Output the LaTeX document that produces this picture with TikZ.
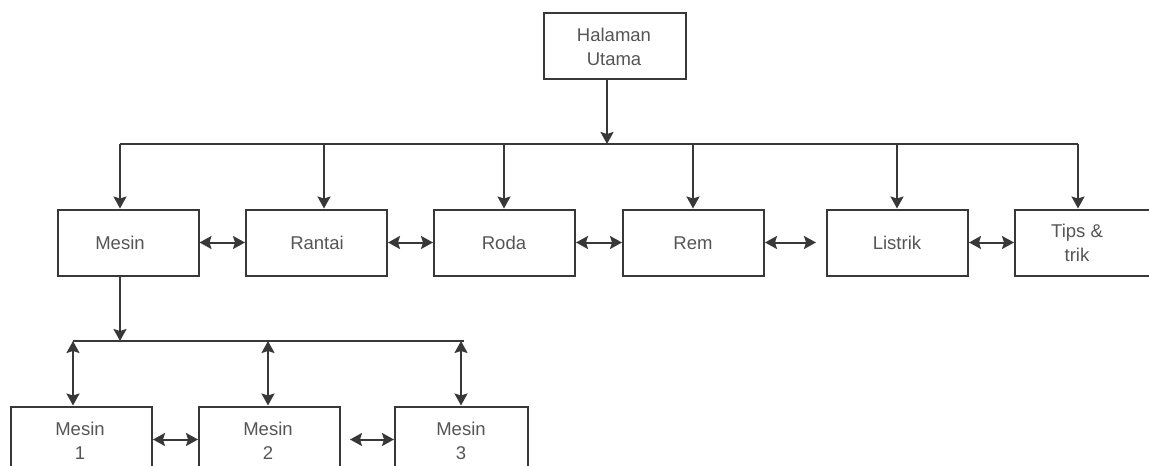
\documentclass[tikz,border=0pt]{standalone}
\usepackage{fontspec}
\setmainfont{Liberation Sans}
\usetikzlibrary{arrows.meta}
\definecolor{linegray}{HTML}{383838}
\definecolor{textgray}{HTML}{555555}
\tikzset{
  boxstyle/.style={draw=linegray, line width=2pt, fill=white, inner sep=0pt,
    minimum height=66pt, minimum width=141pt},
  lbl/.style={text=textgray, align=center, inner sep=0pt,
    font=\fontsize{18.5}{24}\selectfont},
  wire/.style={draw=linegray, line width=2pt},
  arr/.style={wire, -{Stealth[length=12pt,width=13pt,inset=2pt]}},
  darr/.style={wire, {Stealth[length=12pt,width=13pt,inset=2pt]}-{Stealth[length=12pt,width=13pt,inset=2pt]}},
}
\begin{document}
\begin{tikzpicture}[x=1pt,y=-1pt]
\useasboundingbox (0,0) rectangle (1149,466);
\clip (0,0) rectangle (1149,466);

% top page
\node[boxstyle, minimum width=142pt] (hu) at (615,46) {};
\node[lbl] (hu-t) at (614,47) {Halaman\\Utama};

% menu row
\node[boxstyle] (mesin)   at (128,242.5) {};
\node[boxstyle] (rantai)  at (316.5,242.5) {};
\node[boxstyle] (roda)    at (504.5,242.5) {};
\node[boxstyle] (rem)     at (693.5,242.5) {};
\node[boxstyle] (listrik) at (897.5,242.5) {};
\node[boxstyle, minimum width=142pt] (tips) at (1086,242.5) {};

\node[lbl] (mesin-t)   at (120,243) {Mesin};
\node[lbl] (rantai-t)  at (317,243) {Rantai};
\node[lbl] (roda-t)    at (504,243) {Roda};
\node[lbl] (rem-t)     at (693,243) {Rem};
\node[lbl] (listrik-t) at (897,243) {Listrik};
\node[lbl] (tips-t)    at (1077,243) {Tips \&\\trik};

% engine sub-pages
\node[boxstyle] (m1) at (81.5,439.5) {};
\node[boxstyle] (m2) at (269.5,439.5) {};
\node[boxstyle, minimum width=133pt] (m3) at (461.5,439.5) {};

\node[lbl] (m1-t) at (80,441) {Mesin\\1};
\node[lbl] (m2-t) at (268,441) {Mesin\\2};
\node[lbl] (m3-t) at (461,441) {Mesin\\3};

% junction points of the distribution buses
\coordinate (bus-hu)      at (607,144);
\coordinate (bus-mesin)   at (120,144);
\coordinate (bus-rantai)  at (324,144);
\coordinate (bus-roda)    at (504,144);
\coordinate (bus-rem)     at (693,144);
\coordinate (bus-listrik) at (897,144);
\coordinate (bus-tips)    at (1078,144);

\coordinate (sub-mesin) at (120,341);
\coordinate (sub-m1)    at (73,341);
\coordinate (sub-m2)    at (268,341);
\coordinate (sub-m3)    at (461,341);
\coordinate (sub-end)   at (464,341);

% main bus
\draw[arr] (hu.south -| bus-hu) -- (bus-hu);
\draw[wire] (bus-mesin) -- (bus-tips);
\foreach \n in {mesin,rantai,roda,rem,listrik,tips}
  \draw[arr] (bus-\n) -- (bus-\n |- \n.north);

% links between neighbouring menu pages
\draw[darr] (mesin.east) -- (rantai.west);
\draw[darr] (rantai.east) -- (roda.west);
\draw[darr] (roda.east) -- (rem.west);
\draw[darr] (rem.east) -- ([xshift=-10pt]listrik.west);
\draw[darr] (listrik.east) -- (tips.west);

% engine sub-bus
\draw[arr] (mesin.south -| sub-mesin) -- (sub-mesin);
\draw[wire] (sub-m1) -- (sub-end);
\foreach \n in {m1,m2,m3}
  \draw[darr] (sub-\n) -- (sub-\n |- \n.north);

\draw[darr] (m1.east) -- (m2.west);
\draw[darr] ([xshift=9pt]m2.east) -- (m3.west);
\end{tikzpicture}
\end{document}
